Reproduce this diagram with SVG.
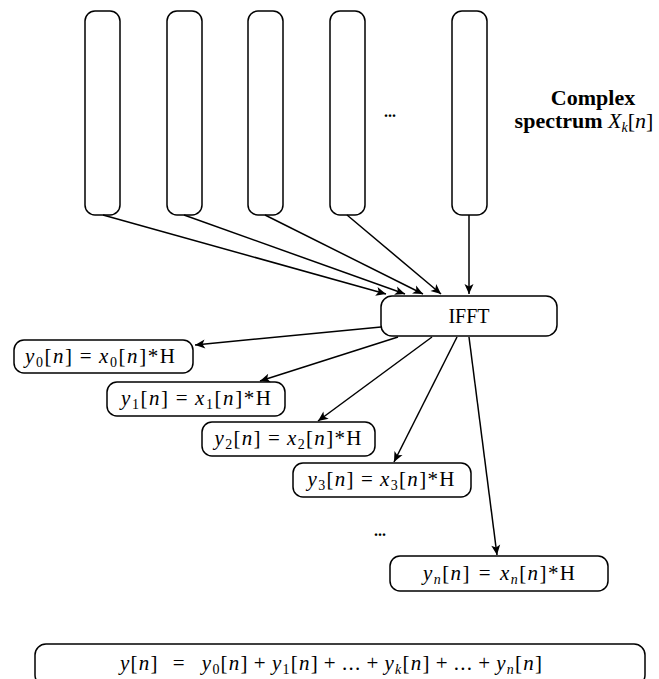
<svg xmlns="http://www.w3.org/2000/svg" width="659" height="679" viewBox="0 0 659 679">
<defs>
<style>
.box{fill:#fff;stroke:#000;stroke-width:1.5}
.ln{fill:none;stroke:#000;stroke-width:1.5;marker-end:url(#ah)}
text{font-family:'Liberation Serif','Times New Roman','DejaVu Serif',serif;font-size:21px;fill:#000}
.i{font-style:italic}
.s{font-size:14px}
.b{font-weight:bold}
.lab{font-size:22px}
</style>
<marker id="ah" markerUnits="userSpaceOnUse" markerWidth="14" markerHeight="12" viewBox="-12 -6 14 12" refX="0" refY="0" orient="auto">
<path d="M0,0 L-10,-4.5 L-7.5,0 L-10,4.5 Z" fill="#000"/>
</marker>
</defs>

<g id="spec1"><rect class="box" x="85" y="11" width="35" height="204" rx="10"/></g>
<g id="spec2"><rect class="box" x="167" y="11" width="35" height="204" rx="10"/></g>
<g id="spec3"><rect class="box" x="248" y="11" width="35" height="204" rx="10"/></g>
<g id="spec4"><rect class="box" x="330" y="11" width="35" height="204" rx="10"/></g>
<g id="dots1"><text class="b" x="390" y="117" text-anchor="middle" style="font-size:16px">...</text></g>
<g id="spec5"><rect class="box" x="452" y="11" width="35" height="204" rx="10"/></g>
<g id="label"><text class="b lab" x="593" y="105" text-anchor="middle">Complex</text><text class="lab" x="584" y="128" text-anchor="middle"><tspan class="b">spectrum </tspan><tspan class="i">X</tspan><tspan class="s i" dy="4">k</tspan><tspan dy="-4">[</tspan><tspan class="i">n</tspan>]</text></g>

<g id="ifft"><rect class="box" x="381" y="296" width="176" height="40" rx="11"/><text x="469" y="323" text-anchor="middle" style="font-size:20px">IFFT</text></g>

<g id="y0"><rect class="box" x="14" y="340" width="179" height="33" rx="10"/><text x="100" y="363" text-anchor="middle" textLength="150"><tspan class="i">y</tspan><tspan class="s" dy="4">0</tspan><tspan dy="-4">[</tspan><tspan class="i">n</tspan><tspan>]</tspan><tspan dx="6">=</tspan><tspan class="i" dx="6">x</tspan><tspan class="s" dy="4">0</tspan><tspan dy="-4">[</tspan><tspan class="i">n</tspan><tspan>]*H</tspan></text></g>
<g id="y1"><rect class="box" x="107" y="382" width="178" height="34" rx="10"/><text x="196" y="405" text-anchor="middle" textLength="150"><tspan class="i">y</tspan><tspan class="s" dy="4">1</tspan><tspan dy="-4">[</tspan><tspan class="i">n</tspan><tspan>]</tspan><tspan dx="6">=</tspan><tspan class="i" dx="6">x</tspan><tspan class="s" dy="4">1</tspan><tspan dy="-4">[</tspan><tspan class="i">n</tspan><tspan>]*H</tspan></text></g>
<g id="y2"><rect class="box" x="202" y="422" width="173" height="34" rx="10"/><text x="288" y="445" text-anchor="middle" textLength="147"><tspan class="i">y</tspan><tspan class="s" dy="4">2</tspan><tspan dy="-4">[</tspan><tspan class="i">n</tspan><tspan>]</tspan><tspan dx="6">=</tspan><tspan class="i" dx="6">x</tspan><tspan class="s" dy="4">2</tspan><tspan dy="-4">[</tspan><tspan class="i">n</tspan><tspan>]*H</tspan></text></g>
<g id="y3"><rect class="box" x="293" y="463" width="178" height="34" rx="10"/><text x="381" y="486" text-anchor="middle" textLength="147"><tspan class="i">y</tspan><tspan class="s" dy="4">3</tspan><tspan dy="-4">[</tspan><tspan class="i">n</tspan><tspan>]</tspan><tspan dx="6">=</tspan><tspan class="i" dx="6">x</tspan><tspan class="s" dy="4">3</tspan><tspan dy="-4">[</tspan><tspan class="i">n</tspan><tspan>]*H</tspan></text></g>
<g id="dots2"><text class="b" x="380" y="536" text-anchor="middle" style="font-size:16px">...</text></g>
<g id="yn"><rect class="box" x="390" y="556" width="218" height="35" rx="10"/><text x="499" y="580" text-anchor="middle" textLength="152"><tspan class="i">y</tspan><tspan class="s i" dy="4">n</tspan><tspan dy="-4">[</tspan><tspan class="i">n</tspan><tspan>]</tspan><tspan dx="8">=</tspan><tspan class="i" dx="8">x</tspan><tspan class="s i" dy="4">n</tspan><tspan dy="-4">[</tspan><tspan class="i">n</tspan><tspan>]*H</tspan></text></g>

<g id="sum"><rect class="box" x="35" y="644" width="610" height="42" rx="11"/><text x="331" y="670" text-anchor="middle" textLength="422"><tspan class="i">y</tspan><tspan>[</tspan><tspan class="i">n</tspan><tspan>]</tspan><tspan dx="14">=</tspan><tspan class="i" dx="16">y</tspan><tspan class="s" dy="4">0</tspan><tspan dy="-4">[</tspan><tspan class="i">n</tspan><tspan>]</tspan><tspan dx="5">+</tspan><tspan class="i" dx="5">y</tspan><tspan class="s" dy="4">1</tspan><tspan dy="-4">[</tspan><tspan class="i">n</tspan><tspan>]</tspan><tspan dx="5">+</tspan><tspan dx="5">...</tspan><tspan dx="5">+</tspan><tspan class="i" dx="5">y</tspan><tspan class="s i" dy="4">k</tspan><tspan dy="-4">[</tspan><tspan class="i">n</tspan><tspan>]</tspan><tspan dx="5">+</tspan><tspan dx="5">...</tspan><tspan dx="5">+</tspan><tspan class="i" dx="5">y</tspan><tspan class="s i" dy="4">n</tspan><tspan dy="-4">[</tspan><tspan class="i">n</tspan><tspan>]</tspan></text></g>

<g id="connectors">
<line class="ln" x1="103" y1="215" x2="386" y2="294"/>
<line class="ln" x1="184" y1="215" x2="405" y2="294"/>
<line class="ln" x1="265" y1="215" x2="423" y2="294"/>
<line class="ln" x1="347" y1="215" x2="441" y2="294"/>
<line class="ln" x1="469" y1="215" x2="469" y2="294"/>
<line class="ln" x1="381" y1="327" x2="195" y2="345"/>
<line class="ln" x1="398" y1="337" x2="260" y2="381"/>
<line class="ln" x1="432" y1="337" x2="318" y2="421"/>
<line class="ln" x1="457" y1="337" x2="394" y2="462"/>
<line class="ln" x1="469" y1="337" x2="497" y2="555"/>
</g>
</svg>
